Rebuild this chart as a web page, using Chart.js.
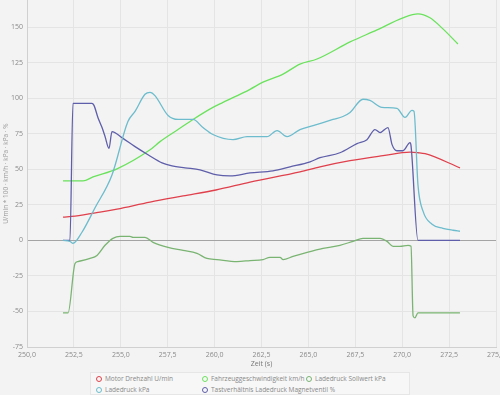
<!DOCTYPE html>
<html><head><meta charset="utf-8">
<script src="https://cdn.jsdelivr.net/npm/chart.js@4"></script>
<style>
html,body{margin:0;padding:0;background:#f3f3f3;overflow:hidden;width:500px;height:395px;}
#wrap{position:absolute;left:0;top:0;width:506px;height:370px;}
#legend{position:absolute;left:90px;top:372px;width:318px;height:21px;background:#f7f7f7;border:1px solid #e6e6e6;font-family:'Open Sans',sans-serif;font-size:6.5px;color:#888;}
.it{position:absolute;white-space:nowrap;line-height:8px;}
.dot{display:inline-block;width:4px;height:4px;border-radius:50%;border:1.3px solid;vertical-align:-1px;margin-right:3px;background:#f7f7f7;}
</style></head>
<body>
<div id="wrap"><canvas id="c" width="506" height="370"></canvas></div>
<div id="legend"></div>
<script>
const seriesNames = ["Motor Drehzahl U/min","Fahrzeuggeschwindigkeit km/h","Ladedruck Sollwert kPa","Ladedruck kPa","Tastverhältnis Ladedruck Magnetventil %"];
const seriesColors = ["#e0404c","#6ae25c","#7ab472","#6cbccd","#5e5eaa"];

const drehzahlT = [251.92,252.56,253.89,254.80,256.56,258.32,260.07,261.89,264.55,265.62,267.22,268.98,270.42,270.84,271.22,273.08];
const drehzahlV = [16.3,17.0,19.8,22.0,26.9,31.2,35.4,41.0,48.2,51.7,56.0,59.5,62.0,61.6,60.9,51.0];

const speedT = [251.92,252.99,253.52,254.80,256.56,257.09,258.05,258.85,259.91,260.45,261.89,262.58,263.65,264.55,265.46,267.22,268.66,270.04,270.84,271.48,272.17,272.97];
const speedV = [41.8,41.8,44.6,50.3,63.7,69.4,77.9,85.0,93.5,97.0,106.2,111.2,116.9,123.9,127.5,139.5,148.0,156.5,159.3,156.5,148.7,138.1];

const sollT = [251.92,252.19,252.56,252.72,253.36,253.73,254.16,254.58,254.96,255.49,255.65,256.29,256.72,257.52,258.32,259.06,259.59,260.13,261.19,261.89,262.58,262.95,263.49,263.65,264.18,264.93,265.78,266.68,267.38,267.91,268.82,269.19,269.51,269.88,270.31,270.47,270.58,270.68,270.84,273.08];
const sollV = [-51.0,-51.0,-16.3,-14.9,-12.7,-10.6,-3.5,1.4,2.8,2.8,2.1,2.1,-1.4,-5.0,-7.1,-9.2,-12.7,-13.5,-14.9,-14.2,-13.5,-12.0,-12.0,-13.5,-11.3,-8.5,-5.7,-3.5,-0.7,1.4,1.4,-0.7,-4.2,-4.2,-3.5,-4.2,-53.1,-54.5,-51.0,-51.0];

const ladeT = [251.92,252.29,252.45,252.93,253.62,254.53,255.38,255.76,256.29,256.56,256.82,257.52,258.05,258.85,259.38,259.91,260.98,261.73,262.79,263.33,263.86,264.55,265.25,266.31,266.84,267.22,267.91,268.28,268.92,269.72,270.15,270.52,270.63,270.84,271.11,271.59,272.17,272.71,273.08];
const ladeV = [0,-0.7,-2.1,5.7,22.7,46.0,83.6,90.7,102.7,104.1,101.8,87.8,85.0,85.0,79.3,74.4,70.8,72.9,72.9,77.2,72.9,77.9,80.7,85.0,87.1,89.9,99.2,98.4,93.5,92.8,86.4,91.4,90.7,39.0,20.5,11.3,8.5,7.1,6.4];

const tastT = [251.92,252.29,252.45,253.46,253.57,253.78,254.00,254.16,254.37,254.53,255.06,255.76,256.45,257.20,257.73,258.42,259.22,260.13,260.82,261.89,263.11,264.02,265.09,265.62,266.68,267.59,268.12,268.55,268.82,269.24,269.46,269.72,270.04,270.42,270.47,270.84,273.08];
const tastV = [0,0,96.3,96.3,94.9,86.4,79.3,73.0,64.6,76.5,72.2,65.9,60.2,54.5,52.4,51.0,49.6,46.0,45.3,47.4,48.9,51.7,55.2,58.1,61.6,68.0,70.8,77.9,75.8,79.3,67.3,63.0,63.0,68.7,66.6,0,0];

const xTicks = [250,252.5,255,257.5,260,262.5,265,267.5,270,272.5,275];
const yTicks = [-75,-50,-25,0,25,50,75,100,125,150];

const pairs = (t,v)=>t.map((x,i)=>({x:x,y:v[i]}));
const allData = [pairs(drehzahlT,drehzahlV),pairs(speedT,speedV),pairs(sollT,sollV),pairs(ladeT,ladeV),pairs(tastT,tastV)];
const order = [2,3,4,0,1];

const datasets = order.map(i=>({
  label: seriesNames[i], data: allData[i], borderColor: seriesColors[i],
  borderWidth: 1.3, pointRadius: 0, cubicInterpolationMode: 'monotone', fill: false
}));

Chart.defaults.font.family = "'Open Sans', sans-serif";
Chart.defaults.font.size = 7;
Chart.defaults.color = '#8a8a8a';

new Chart(document.getElementById('c'), {
  type: 'line',
  data: { datasets },
  options: {
    responsive: false, animation: false, devicePixelRatio: 1,
    layout: { padding: 0 },
    plugins: { legend: { display: false }, tooltip: { enabled: false } },
    scales: {
      x: {
        type: 'linear', min: 250, max: 275,
        afterBuildTicks: s => { s.ticks = xTicks.map(v=>({value:v})); },
        afterFit: s => { s.height = 23; s.paddingRight = 10; s.paddingLeft = 0; },
        ticks: { padding: 4, callback: v => v.toFixed(1).replace('.', ','), maxRotation: 0, autoSkip: false },
        grid: { color: '#e4e4e4', drawTicks: false },
        border: { color: '#d0d0d0' },
        title: { display: true, text: 'Zeit (s)', color: '#777', font: { size: 7 }, padding: { top: 0, bottom: 2 } }
      },
      y: {
        type: 'linear', min: -75, max: 169,
        afterBuildTicks: s => { s.ticks = yTicks.map(v=>({value:v})); },
        afterFit: s => { s.width = 27; s.paddingTop = 0; s.paddingBottom = 0; },
        ticks: { padding: 4, autoSkip: false },
        grid: { color: ctx => (ctx.tick && ctx.tick.value === 0) ? '#a4a4a4' : '#e4e4e4', drawTicks: false },
        border: { color: '#d0d0d0' },
        title: { display: true, text: 'U/min * 100 · km/h · kPa · kPa · %', color: '#999', font: { size: 6.5 }, padding: { top: 2, bottom: 0 } }
      }
    }
  }
});

const lg = document.getElementById('legend');
const pos = [[5,2],[111,2],[215,2],[5,13],[111,13]];
seriesNames.forEach((n,i)=>{
  const d = document.createElement('div');
  d.className = 'it';
  d.style.left = pos[i][0] + 'px'; d.style.top = pos[i][1] + 'px';
  d.innerHTML = '<span class="dot" style="border-color:' + seriesColors[i] + '"></span>' + n;
  lg.appendChild(d);
});
</script>
</body></html>
